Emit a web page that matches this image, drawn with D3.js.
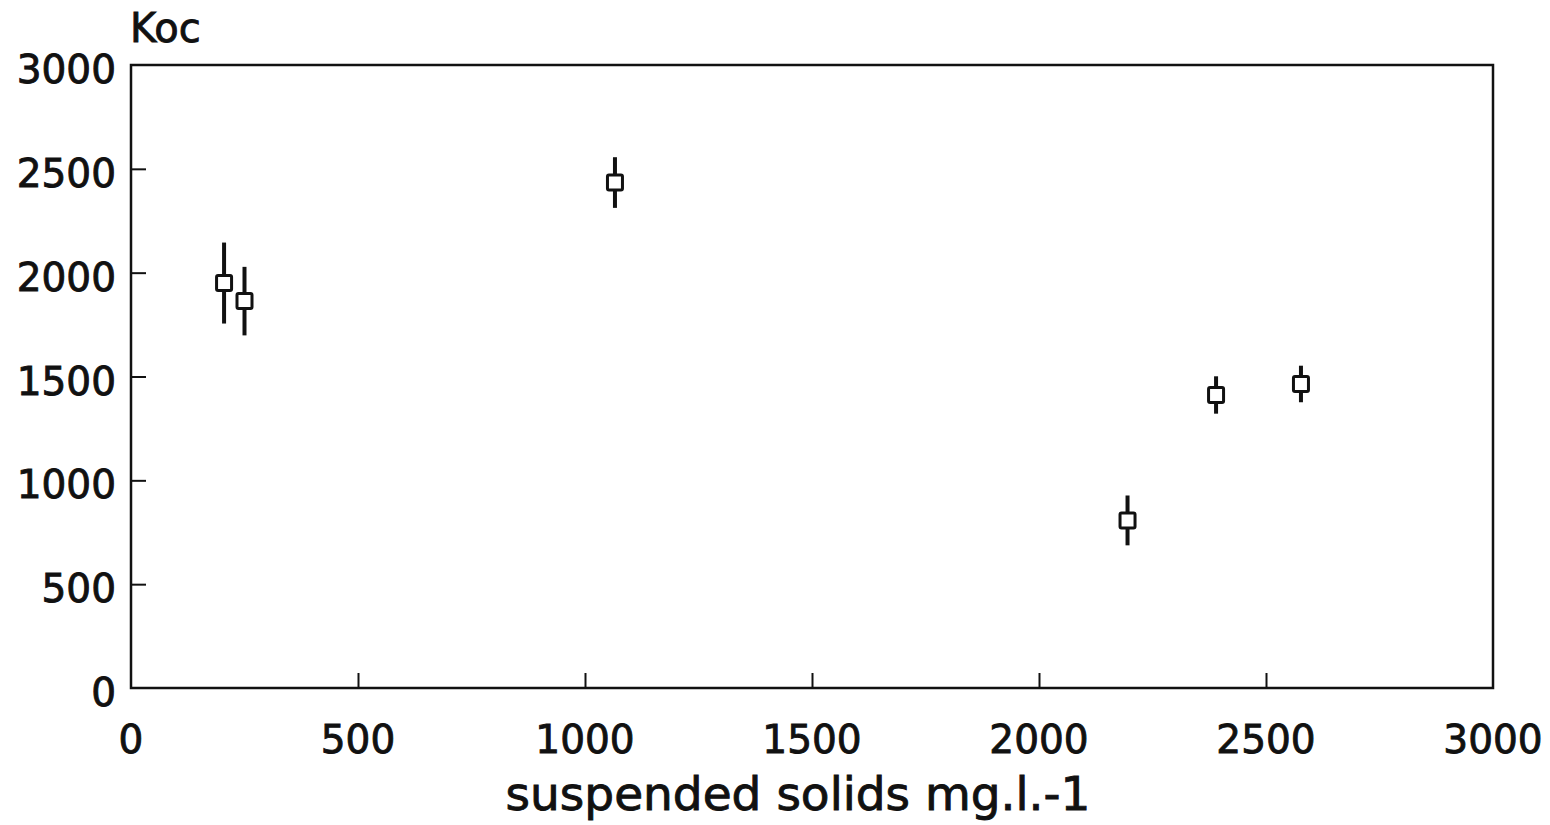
<!DOCTYPE html>
<html>
<head>
	<meta charset="UTF-8">
	<title>Koc vs suspended solids</title>
	<script type="text/javascript" src="https://cdnjs.cloudflare.com/ajax/libs/d3/7.8.5/d3.min.js"></script>
	<style>
		body { margin: 0; background: #ffffff; }
		text { font-family: "DejaVu Sans", sans-serif; fill: #111; stroke: #111; stroke-width: 0.9px; }
	</style>
</head>
<body>
	<div id="chart"></div>

	<script type="text/javascript">
	// data
	var solids = [205, 250, 1066, 2195, 2390, 2577];
	var koc = [1950, 1863, 2434, 807, 1411, 1464];
	var kocErr = [195, 165, 122, 120, 90, 88];

	var xTicks = [0, 500, 1000, 1500, 2000, 2500, 3000];
	var yTicks = [0, 500, 1000, 1500, 2000, 2500, 3000];
	var xTitle = "suspended solids mg.l.-1";
	var yTitle = "Koc";

	var width = 1550;
	var height = 825;
	var margin = {left: 131, right: 57, top: 65, bottom: 137};

	var svg = d3.select("#chart").append("svg")
		.attr("width", width)
		.attr("height", height);

	var x = d3.scaleLinear().domain([0, 3000]).range([margin.left, width - margin.right]);
	var y = d3.scaleLinear().domain([0, 3000]).range([height - margin.bottom, margin.top]);

	// ticks point inward, the frame is drawn on top
	var xAxis = d3.axisTop(x).tickValues(xTicks.slice(1, -1)).tickSize(15).tickFormat("");
	var yAxis = d3.axisRight(y).tickValues(yTicks.slice(1, -1)).tickSize(15).tickFormat("");

	svg.append("g")
		.attr("transform", "translate(0," + y(0) + ")")
		.call(xAxis)
		.call(function(g) { g.select(".domain").remove(); })
		.selectAll("line").attr("stroke", "#111").attr("stroke-width", 2);

	svg.append("g")
		.attr("transform", "translate(" + x(0) + ",0)")
		.call(yAxis)
		.call(function(g) { g.select(".domain").remove(); })
		.selectAll("line").attr("stroke", "#111").attr("stroke-width", 2);

	svg.append("rect")
		.attr("x", x(0))
		.attr("y", y(3000))
		.attr("width", x(3000) - x(0))
		.attr("height", y(0) - y(3000))
		.attr("fill", "none")
		.attr("stroke", "#111")
		.attr("stroke-width", 2.5);

	// tick labels
	svg.selectAll(".xlabel")
		.data(xTicks)
		.enter().append("text")
		.attr("class", "xlabel")
		.attr("x", function(d) { return x(d); })
		.attr("y", y(0) + 65)
		.attr("text-anchor", "middle")
		.style("font-size", "39px")
		.text(function(d) { return d; });

	svg.selectAll(".ylabel")
		.data(yTicks)
		.enter().append("text")
		.attr("class", "ylabel")
		.attr("x", x(0) - 15)
		.attr("y", function(d) { return y(d) + 18; })
		.attr("text-anchor", "end")
		.style("font-size", "39px")
		.text(function(d) { return d; });

	svg.append("text")
		.attr("x", x(0) - 1)
		.attr("y", 42)
		.style("font-size", "40px")
		.text(yTitle);

	svg.append("text")
		.attr("x", 798)
		.attr("y", 810)
		.attr("text-anchor", "middle")
		.style("font-size", "47px")
		.text(xTitle);

	// error bars then open squares
	var points = solids.map(function(d, i) { return {x: d, y: koc[i], e: kocErr[i]}; });

	svg.selectAll(".err")
		.data(points)
		.enter().append("line")
		.attr("class", "err")
		.attr("x1", function(d) { return x(d.x); })
		.attr("x2", function(d) { return x(d.x); })
		.attr("y1", function(d) { return y(d.y + d.e); })
		.attr("y2", function(d) { return y(d.y - d.e); })
		.attr("stroke", "#111")
		.attr("stroke-width", 4);

	var sq = 15;
	svg.selectAll(".pt")
		.data(points)
		.enter().append("rect")
		.attr("class", "pt")
		.attr("x", function(d) { return x(d.x) - sq / 2; })
		.attr("y", function(d) { return y(d.y) - sq / 2; })
		.attr("width", sq)
		.attr("height", sq)
		.attr("rx", 1.5)
		.attr("fill", "#fff")
		.attr("stroke", "#111")
		.attr("stroke-width", 3);
	</script>
</body>
</html>
